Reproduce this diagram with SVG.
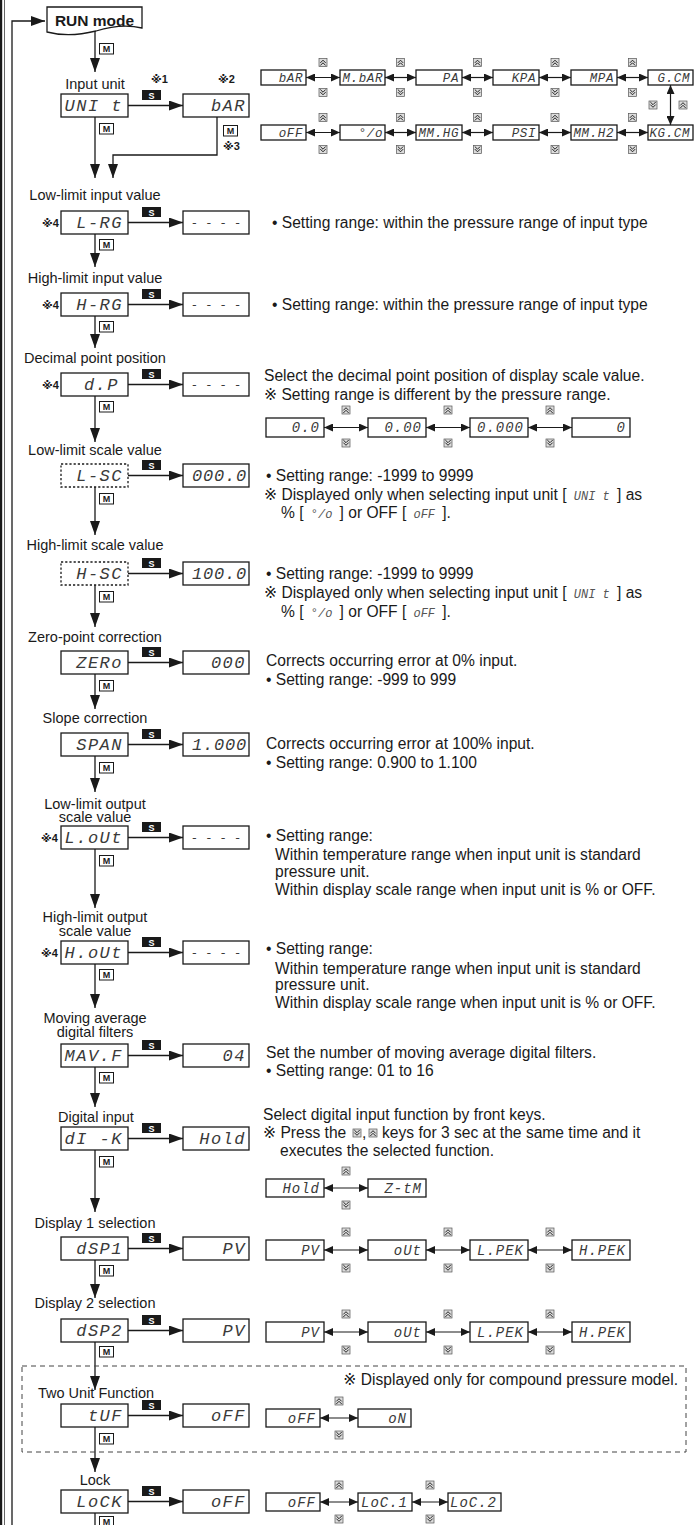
<svg xmlns="http://www.w3.org/2000/svg" width="697" height="1525" viewBox="0 0 697 1525">
<style>
.bx{fill:#fff;stroke:#1a1a1a;stroke-width:1.3}
.dash{stroke-dasharray:2.2 2}
.ln{fill:none;stroke:#1a1a1a;stroke-width:1.3}
.arr{marker-end:url(#ah)}
.dbl{fill:none;stroke:#1a1a1a;stroke-width:1.2;marker-start:url(#sa);marker-end:url(#sa)}
.lcd{font-family:"Liberation Mono","DejaVu Sans Mono",monospace;font-style:italic;font-size:17px;fill:#3a3a3a;letter-spacing:1.5px}
.lm{font-size:14px;letter-spacing:1px}
.ls{font-size:12.5px;letter-spacing:0.6px}
.lq{font-size:12px;letter-spacing:0px}
.e{text-anchor:end}
.mid{text-anchor:middle}
.lbl{font-family:"Liberation Sans",Arial,sans-serif;font-size:14.5px;fill:#1a1a1a;text-anchor:middle}
.tx{font-family:"Liberation Sans","DejaVu Sans","Noto Sans CJK JP",sans-serif;font-size:15.6px;fill:#1a1a1a}
.li{font-family:"Liberation Mono","DejaVu Sans Mono",monospace;font-style:italic;font-size:12px;fill:#555}
.ast{font-family:"Liberation Sans","DejaVu Sans","Noto Sans CJK JP",sans-serif;font-size:11px;font-weight:bold;fill:#1a1a1a}
.run{font-family:"Liberation Sans",Arial,sans-serif;font-size:15.5px;font-weight:bold;text-anchor:middle;fill:#1a1a1a}
.kt{font-family:"Liberation Sans",Arial,sans-serif;font-size:9px;font-weight:bold;text-anchor:middle}
.grp{fill:none;stroke:#444;stroke-width:1;stroke-dasharray:5 4}
</style>
<defs>
<marker id="ah" viewBox="0 0 14 10" refX="14" refY="5" markerWidth="14" markerHeight="10" markerUnits="userSpaceOnUse" orient="auto"><path d="M0,0L14,5L0,10z" fill="#1a1a1a"/></marker>
<marker id="sa" viewBox="0 0 9 8" refX="9" refY="4" markerWidth="9" markerHeight="8" markerUnits="userSpaceOnUse" orient="auto-start-reverse"><path d="M0,0L9,4L0,8z" fill="#1a1a1a"/></marker>
<g id="ku"><rect x="-4" y="-4" width="8" height="8" fill="#dcdcdc" stroke="#555" stroke-width="0.7"/><path d="M-2.7,0.4L0,-2.3L2.7,0.4M-2.7,3L0,0.3L2.7,3" fill="none" stroke="#111" stroke-width="0.9"/></g>
<g id="kd"><rect x="-4" y="-4" width="8" height="8" fill="#dcdcdc" stroke="#555" stroke-width="0.7"/><path d="M-2.7,-0.4L0,2.3L2.7,-0.4M-2.7,-3L0,-0.3L2.7,-3" fill="none" stroke="#111" stroke-width="0.9"/></g>
<g id="km"><rect x="0.5" y="0.5" width="14" height="10.5" fill="#fff" stroke="#1a1a1a" stroke-width="1"/><text class="kt" x="7.5" y="9.3" fill="#1a1a1a">M</text></g>
<g id="ks"><rect width="19" height="10" fill="#1a1a1a"/><text class="kt" x="9.5" y="8.6" fill="#fff">S</text></g>
</defs>

<rect x="0" y="0" width="2.2" height="1525" fill="#1a1a1a"/>
<line x1="4.5" y1="0" x2="4.5" y2="1525" stroke="#666" stroke-width="1"/>

<g id="connectors">
<path class="ln arr" d="M12,1525V21H45"/>
<path class="ln arr" d="M95,31V72"/>
<path class="ln arr" d="M128,105.5H183"/>
<path class="ln arr" d="M95,117V178"/>
<path class="ln arr" d="M217,117V155H113V178"/>
<path class="ln arr" d="M128,222.5H183"/>
<path class="ln arr" d="M95,234V267"/>
<path class="ln arr" d="M128,304.5H183"/>
<path class="ln arr" d="M95,316V348"/>
<path class="ln arr" d="M128,384.5H183"/>
<path class="ln arr" d="M95,396V442"/>
<path class="ln arr" d="M128,475.5H183"/>
<path class="ln arr" d="M95,487V535"/>
<path class="ln arr" d="M128,573.5H183"/>
<path class="ln arr" d="M95,585V627"/>
<path class="ln arr" d="M128,662.5H183"/>
<path class="ln arr" d="M95,674V709"/>
<path class="ln arr" d="M128,744.5H183"/>
<path class="ln arr" d="M95,756V792"/>
<path class="ln arr" d="M128,837.5H183"/>
<path class="ln arr" d="M95,849V908"/>
<path class="ln arr" d="M128,952.5H183"/>
<path class="ln arr" d="M95,964V1008"/>
<path class="ln arr" d="M128,1055.5H183"/>
<path class="ln arr" d="M95,1067V1107"/>
<path class="ln arr" d="M128,1138.5H183"/>
<path class="ln arr" d="M95,1150V1212"/>
<path class="ln arr" d="M128,1248.5H183"/>
<path class="ln arr" d="M95,1260V1298"/>
<path class="ln arr" d="M128,1330.5H183"/>
<path class="ln arr" d="M95,1342V1390"/>
<path class="ln arr" d="M128,1415.5H183"/>
<path class="ln arr" d="M95,1427V1472"/>
<path class="ln arr" d="M128,1501.5H183"/>
<path class="ln" d="M95,1513V1525"/>
<path class="dbl" d="M306,77.5H340"/><path class="dbl" d="M385,77.5H416"/><path class="dbl" d="M462,77.5H493"/><path class="dbl" d="M539,77.5H571"/><path class="dbl" d="M617,77.5H648"/>
<path class="dbl" d="M306,132.5H340"/><path class="dbl" d="M385,132.5H416"/><path class="dbl" d="M462,132.5H493"/><path class="dbl" d="M539,132.5H571"/><path class="dbl" d="M617,132.5H648"/>
<path class="dbl" d="M670.5,85V125"/>
<path class="dbl" d="M324,427.5H368"/><path class="dbl" d="M426,427.5H470"/><path class="dbl" d="M528,427.5H572"/>
<path class="dbl" d="M324,1188H368"/>
<path class="dbl" d="M324,1250H368"/><path class="dbl" d="M426,1250H470"/><path class="dbl" d="M528,1250H572"/>
<path class="dbl" d="M324,1332H368"/><path class="dbl" d="M426,1332H470"/><path class="dbl" d="M528,1332H572"/>
<path class="dbl" d="M320,1418H358"/>
<path class="dbl" d="M320,1502H358"/><path class="dbl" d="M412,1502H448"/>
</g>

<g id="keys">
<use href="#km" x="99" y="43"/>
<use href="#ks" x="142" y="90"/><use href="#km" x="99" y="123"/><use href="#km" x="223" y="125"/>
<use href="#ks" x="142" y="207"/><use href="#km" x="99" y="239"/>
<use href="#ks" x="142" y="289"/><use href="#km" x="99" y="321"/>
<use href="#ks" x="142" y="369"/><use href="#km" x="99" y="401"/>
<use href="#ks" x="142" y="460"/><use href="#km" x="99" y="493"/>
<use href="#ks" x="142" y="558"/><use href="#km" x="99" y="591"/>
<use href="#ks" x="142" y="647"/><use href="#km" x="99" y="680"/>
<use href="#ks" x="142" y="729"/><use href="#km" x="99" y="762"/>
<use href="#ks" x="142" y="822"/><use href="#km" x="99" y="855"/>
<use href="#ks" x="142" y="937"/><use href="#km" x="99" y="969"/>
<use href="#ks" x="142" y="1040"/><use href="#km" x="99" y="1072"/>
<use href="#ks" x="142" y="1123"/><use href="#km" x="99" y="1156"/>
<use href="#ks" x="142" y="1233"/><use href="#km" x="99" y="1265"/>
<use href="#ks" x="142" y="1315"/><use href="#km" x="99" y="1346"/>
<use href="#ks" x="142" y="1400"/><use href="#km" x="99" y="1433"/>
<use href="#ks" x="142" y="1486"/><use href="#km" x="99" y="1516"/>
<use href="#ku" x="323" y="62.5"/><use href="#kd" x="323" y="92.5"/>
<use href="#ku" x="400.5" y="62.5"/><use href="#kd" x="400.5" y="92.5"/>
<use href="#ku" x="477.5" y="62.5"/><use href="#kd" x="477.5" y="92.5"/>
<use href="#ku" x="555" y="62.5"/><use href="#kd" x="555" y="92.5"/>
<use href="#ku" x="632.5" y="62.5"/><use href="#kd" x="632.5" y="92.5"/>
<use href="#kd" x="653" y="105"/><use href="#ku" x="683" y="105"/>
<use href="#ku" x="323" y="117.5"/><use href="#kd" x="323" y="149.5"/>
<use href="#ku" x="400.5" y="117.5"/><use href="#kd" x="400.5" y="149.5"/>
<use href="#ku" x="477.5" y="117.5"/><use href="#kd" x="477.5" y="149.5"/>
<use href="#ku" x="555" y="117.5"/><use href="#kd" x="555" y="149.5"/>
<use href="#ku" x="632.5" y="117.5"/><use href="#kd" x="632.5" y="149.5"/>
<use href="#ku" x="346" y="410"/><use href="#kd" x="346" y="443"/>
<use href="#ku" x="448" y="410"/><use href="#kd" x="448" y="443"/>
<use href="#ku" x="550" y="410"/><use href="#kd" x="550" y="443"/>
<use href="#kd" x="357" y="1133"/><use href="#ku" x="373" y="1133"/>
<use href="#ku" x="346" y="1171"/><use href="#kd" x="346" y="1205"/>
<use href="#ku" x="346" y="1232"/><use href="#kd" x="346" y="1268"/>
<use href="#ku" x="448" y="1232"/><use href="#kd" x="448" y="1268"/>
<use href="#ku" x="550" y="1232"/><use href="#kd" x="550" y="1268"/>
<use href="#ku" x="346" y="1314"/><use href="#kd" x="346" y="1350"/>
<use href="#ku" x="448" y="1314"/><use href="#kd" x="448" y="1350"/>
<use href="#ku" x="550" y="1314"/><use href="#kd" x="550" y="1350"/>
<use href="#ku" x="339" y="1401"/><use href="#kd" x="339" y="1435"/>
<use href="#ku" x="339" y="1485"/><use href="#kd" x="339" y="1519"/>
<use href="#ku" x="430" y="1485"/><use href="#kd" x="430" y="1519"/>
</g>

<g id="n-run"><path class="bx" d="M47,7H142V28C126,24 112,26 96,31C80,35 62,36 47,32Z"/><text class="run" x="94.5" y="26">RUN mode</text></g>

<g id="n-unit"><text class="lbl" x="95" y="89">Input unit</text><rect class="bx" x="61" y="94" width="67" height="23"/><text class="lcd e" x="123" y="111">UNI t</text></g>
<text class="ast" x="151" y="83">※1</text>
<text class="ast" x="218" y="83">※2</text>
<text class="ast" x="223" y="150">※3</text>
<g id="n-unit-val"><rect class="bx" x="183" y="94" width="66" height="23"/><text class="lcd e" x="246" y="111">bAR</text></g>

<g id="opt-units">
<rect class="bx" x="261" y="70" width="45" height="15"/><text class="lcd ls e" x="303" y="82">bAR</text>
<rect class="bx" x="340" y="70" width="45" height="15"/><text class="lcd ls e" x="383" y="82">M.bAR</text>
<rect class="bx" x="416" y="70" width="46" height="15"/><text class="lcd ls e" x="459" y="82">PA</text>
<rect class="bx" x="493" y="70" width="46" height="15"/><text class="lcd ls e" x="536" y="82">KPA</text>
<rect class="bx" x="571" y="70" width="46" height="15"/><text class="lcd ls e" x="614" y="82">MPA</text>
<rect class="bx" x="648" y="70" width="45" height="15"/><text class="lcd ls e" x="690" y="82">G.CM</text>
<rect class="bx" x="261" y="125" width="45" height="15"/><text class="lcd ls e" x="303" y="137">oFF</text>
<rect class="bx" x="340" y="125" width="45" height="15"/><text class="lcd ls e" x="383" y="137">°/o</text>
<rect class="bx" x="416" y="125" width="46" height="15"/><text class="lcd ls e" x="459" y="137">MM.HG</text>
<rect class="bx" x="493" y="125" width="46" height="15"/><text class="lcd ls e" x="536" y="137">PSI</text>
<rect class="bx" x="571" y="125" width="46" height="15"/><text class="lcd ls e" x="614" y="137">MM.H2</text>
<rect class="bx" x="648" y="125" width="45" height="15"/><text class="lcd ls e" x="690" y="137">KG.CM</text>
</g>

<g id="n-lrg"><text class="lbl" x="95" y="200">Low-limit input value</text><text class="ast" x="42" y="227">※4</text><rect class="bx" x="61" y="211" width="67" height="23"/><text class="lcd e" x="123" y="228">L-RG</text></g>
<g id="v-lrg"><rect class="bx" x="183" y="211" width="66" height="23"/><text class="lcd lq mid" x="216" y="227">- - - -</text></g>
<text class="tx" x="272" y="228">• Setting range: within the pressure range of input type</text>

<g id="n-hrg"><text class="lbl" x="95" y="283">High-limit input value</text><text class="ast" x="42" y="309">※4</text><rect class="bx" x="61" y="293" width="67" height="23"/><text class="lcd e" x="123" y="310">H-RG</text></g>
<g id="v-hrg"><rect class="bx" x="183" y="293" width="66" height="23"/><text class="lcd lq mid" x="216" y="309">- - - -</text></g>
<text class="tx" x="272" y="310">• Setting range: within the pressure range of input type</text>

<g id="n-dp"><text class="lbl" x="95" y="363">Decimal point position</text><text class="ast" x="42" y="389">※4</text><rect class="bx" x="61" y="373" width="67" height="23"/><text class="lcd e" x="119" y="390">d.P</text></g>
<g id="v-dp"><rect class="bx" x="183" y="373" width="66" height="23"/><text class="lcd lq mid" x="216" y="389">- - - -</text></g>
<text class="tx" x="264" y="381">Select the decimal point position of display scale value.</text>
<text class="tx" x="264" y="400">※ Setting range is different by the pressure range.</text>
<g id="opt-dp">
<rect class="bx" x="266" y="418" width="58" height="19"/><text class="lcd lm e" x="320" y="432">0.0</text>
<rect class="bx" x="368" y="418" width="58" height="19"/><text class="lcd lm e" x="422" y="432">0.00</text>
<rect class="bx" x="470" y="418" width="58" height="19"/><text class="lcd lm e" x="524" y="432">0.000</text>
<rect class="bx" x="572" y="418" width="58" height="19"/><text class="lcd lm e" x="626" y="432">0</text>
</g>

<g id="n-lsc"><text class="lbl" x="95" y="455">Low-limit scale value</text><rect class="bx dash" x="61" y="464" width="67" height="23"/><text class="lcd e" x="123" y="481">L-SC</text></g>
<g id="v-lsc"><rect class="bx" x="183" y="464" width="66" height="23"/><text class="lcd e" x="247" y="481" style="letter-spacing:0.8px">000.0</text></g>
<text class="tx" x="266" y="481">• Setting range: -1999 to 9999</text>
<text class="tx" x="264" y="500">※ Displayed only when selecting input unit [<tspan class="li"> UNI t </tspan>] as</text>
<text class="tx" x="281" y="518">% [<tspan class="li"> °/o </tspan>] or OFF [<tspan class="li"> oFF </tspan>].</text>

<g id="n-hsc"><text class="lbl" x="95" y="550">High-limit scale value</text><rect class="bx dash" x="61" y="562" width="67" height="23"/><text class="lcd e" x="123" y="579">H-SC</text></g>
<g id="v-hsc"><rect class="bx" x="183" y="562" width="66" height="23"/><text class="lcd e" x="247" y="579" style="letter-spacing:0.8px">100.0</text></g>
<text class="tx" x="266" y="579">• Setting range: -1999 to 9999</text>
<text class="tx" x="264" y="598">※ Displayed only when selecting input unit [<tspan class="li"> UNI t </tspan>] as</text>
<text class="tx" x="281" y="617">% [<tspan class="li"> °/o </tspan>] or OFF [<tspan class="li"> oFF </tspan>].</text>

<g id="n-zero"><text class="lbl" x="95" y="642">Zero-point correction</text><rect class="bx" x="61" y="651" width="67" height="23"/><text class="lcd e" x="123" y="668">ZERo</text></g>
<g id="v-zero"><rect class="bx" x="183" y="651" width="66" height="23"/><text class="lcd e" x="246" y="668">000</text></g>
<text class="tx" x="266" y="666">Corrects occurring error at 0% input.</text>
<text class="tx" x="266" y="685">• Setting range: -999 to 999</text>

<g id="n-span"><text class="lbl" x="95" y="723">Slope correction</text><rect class="bx" x="61" y="733" width="67" height="23"/><text class="lcd e" x="123" y="750">SPAN</text></g>
<g id="v-span"><rect class="bx" x="183" y="733" width="66" height="23"/><text class="lcd e" x="247" y="750" style="letter-spacing:0.8px">1.000</text></g>
<text class="tx" x="266" y="749">Corrects occurring error at 100% input.</text>
<text class="tx" x="266" y="768">• Setting range: 0.900 to 1.100</text>

<g id="n-lout"><text class="lbl" x="95" y="809">Low-limit output</text><text class="lbl" x="95" y="822">scale value</text><text class="ast" x="41" y="842">※4</text><rect class="bx" x="61" y="826" width="67" height="23"/><text class="lcd e" x="123" y="843">L.oUt</text></g>
<g id="v-lout"><rect class="bx" x="183" y="826" width="66" height="23"/><text class="lcd lq mid" x="216" y="842">- - - -</text></g>
<text class="tx" x="266" y="841">• Setting range:</text>
<text class="tx" x="275" y="860">Within temperature range when input unit is standard</text>
<text class="tx" x="275" y="877">pressure unit.</text>
<text class="tx" x="275" y="895">Within display scale range when input unit is % or OFF.</text>

<g id="n-hout"><text class="lbl" x="95" y="922">High-limit output</text><text class="lbl" x="95" y="936">scale value</text><text class="ast" x="41" y="957">※4</text><rect class="bx" x="61" y="941" width="67" height="23"/><text class="lcd e" x="123" y="958">H.oUt</text></g>
<g id="v-hout"><rect class="bx" x="183" y="941" width="66" height="23"/><text class="lcd lq mid" x="216" y="957">- - - -</text></g>
<text class="tx" x="266" y="954">• Setting range:</text>
<text class="tx" x="275" y="974">Within temperature range when input unit is standard</text>
<text class="tx" x="275" y="990">pressure unit.</text>
<text class="tx" x="275" y="1008">Within display scale range when input unit is % or OFF.</text>

<g id="n-mavf"><text class="lbl" x="95" y="1023">Moving average</text><text class="lbl" x="95" y="1037">digital filters</text><rect class="bx" x="61" y="1044" width="67" height="23"/><text class="lcd e" x="123" y="1061">MAV.F</text></g>
<g id="v-mavf"><rect class="bx" x="183" y="1044" width="66" height="23"/><text class="lcd e" x="246" y="1061">04</text></g>
<text class="tx" x="266" y="1058">Set the number of moving average digital filters.</text>
<text class="tx" x="266" y="1076">• Setting range: 01 to 16</text>

<g id="n-dik"><text class="lbl" x="96" y="1122">Digital input</text><rect class="bx" x="61" y="1127" width="67" height="23"/><text class="lcd e" x="123" y="1144">dI -K</text></g>
<g id="v-dik"><rect class="bx" x="183" y="1127" width="66" height="23"/><text class="lcd e" x="246" y="1144">Hold</text></g>
<text class="tx" x="263" y="1120">Select digital input function by front keys.</text>
<text class="tx" x="263" y="1138">※ Press the</text>
<text class="tx" x="362" y="1138">,</text>
<text class="tx" x="382" y="1138">keys for 3 sec at the same time and it</text>
<text class="tx" x="280" y="1156">executes the selected function.</text>
<g id="opt-dik">
<rect class="bx" x="266" y="1179" width="58" height="18"/><text class="lcd lm e" x="320" y="1193">Hold</text>
<rect class="bx" x="368" y="1179" width="58" height="18"/><text class="lcd lm e" x="422" y="1193">Z-tM</text>
</g>

<g id="n-dsp1"><text class="lbl" x="95" y="1228">Display 1 selection</text><rect class="bx" x="61" y="1237" width="67" height="23"/><text class="lcd e" x="123" y="1254">dSP1</text></g>
<g id="v-dsp1"><rect class="bx" x="183" y="1237" width="66" height="23"/><text class="lcd e" x="246" y="1254">PV</text></g>
<g id="opt-dsp1">
<rect class="bx" x="266" y="1240" width="58" height="20"/><text class="lcd lm e" x="320" y="1255">PV</text>
<rect class="bx" x="368" y="1240" width="58" height="20"/><text class="lcd lm e" x="422" y="1255">oUt</text>
<rect class="bx" x="470" y="1240" width="58" height="20"/><text class="lcd lm e" x="524" y="1255">L.PEK</text>
<rect class="bx" x="572" y="1240" width="58" height="20"/><text class="lcd lm e" x="626" y="1255">H.PEK</text>
</g>

<g id="n-dsp2"><text class="lbl" x="95" y="1308">Display 2 selection</text><rect class="bx" x="61" y="1319" width="67" height="23"/><text class="lcd e" x="123" y="1336">dSP2</text></g>
<g id="v-dsp2"><rect class="bx" x="183" y="1319" width="66" height="23"/><text class="lcd e" x="246" y="1336">PV</text></g>
<g id="opt-dsp2">
<rect class="bx" x="266" y="1322" width="58" height="20"/><text class="lcd lm e" x="320" y="1337">PV</text>
<rect class="bx" x="368" y="1322" width="58" height="20"/><text class="lcd lm e" x="422" y="1337">oUt</text>
<rect class="bx" x="470" y="1322" width="58" height="20"/><text class="lcd lm e" x="524" y="1337">L.PEK</text>
<rect class="bx" x="572" y="1322" width="58" height="20"/><text class="lcd lm e" x="626" y="1337">H.PEK</text>
</g>

<g id="compound-region"><rect class="grp" x="22" y="1366" width="664" height="86"/><text class="tx" x="678" y="1385" text-anchor="end">※ Displayed only for compound pressure model.</text></g>

<g id="n-tuf"><text class="lbl" x="96" y="1398">Two Unit Function</text><rect class="bx" x="61" y="1404" width="67" height="23"/><text class="lcd e" x="123" y="1421">tUF</text></g>
<g id="v-tuf"><rect class="bx" x="183" y="1404" width="66" height="23"/><text class="lcd e" x="246" y="1421">oFF</text></g>
<g id="opt-tuf">
<rect class="bx" x="266" y="1409" width="54" height="18"/><text class="lcd lm e" x="316" y="1423">oFF</text>
<rect class="bx" x="358" y="1409" width="53" height="18"/><text class="lcd lm e" x="407" y="1423">oN</text>
</g>

<g id="n-lock"><text class="lbl" x="95" y="1485">Lock</text><rect class="bx" x="61" y="1490" width="67" height="23"/><text class="lcd e" x="123" y="1507">LoCK</text></g>
<g id="v-lock"><rect class="bx" x="183" y="1490" width="66" height="23"/><text class="lcd e" x="246" y="1507">oFF</text></g>
<g id="opt-lock">
<rect class="bx" x="266" y="1493" width="54" height="18"/><text class="lcd lm e" x="316" y="1507">oFF</text>
<rect class="bx" x="358" y="1493" width="54" height="18"/><text class="lcd lm e" x="408" y="1507">LoC.1</text>
<rect class="bx" x="448" y="1493" width="53" height="18"/><text class="lcd lm e" x="497" y="1507">LoC.2</text>
</g>
</svg>
